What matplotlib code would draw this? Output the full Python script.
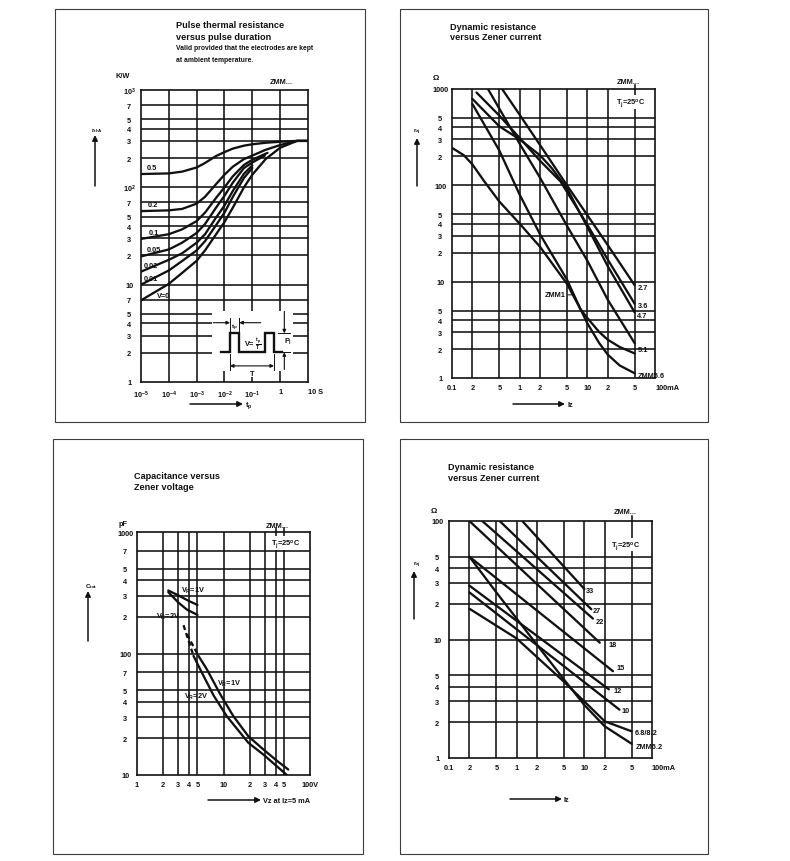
import matplotlib
matplotlib.use("Agg")
import matplotlib.pyplot as plt
from matplotlib.patches import Rectangle, FancyArrowPatch
from matplotlib.ticker import NullLocator

plt.rcParams["font.family"] = ["Liberation Sans", "DejaVu Sans"]
plt.rcParams["font.weight"] = "bold"
plt.rcParams["mathtext.default"] = "regular"

W, H = 790, 862
INK = "#111111"

# ---- pulse thermal resistance (top left) ----
tp_long = [1e-5, 1e-4, 3e-4, 1e-3, 2e-3, 5e-3, 1e-2, 2e-2, 5e-2, 1e-1, 3e-1, 1, 4, 10]
zth_05 = [137, 139, 145, 160, 178, 210, 230, 250, 268, 277, 287, 294, 300, 300]
zth_02 = [57, 58, 60, 68, 80, 108, 135, 163, 195, 212, 243, 272, 300, 300]
zth_0 = [6.9, 10.2, 13.2, 17.6, 22.5, 33, 44, 62, 100, 135, 195, 255, 300, 300]
tp_01 = [1e-5, 1e-4, 3e-4, 1e-3, 2e-3, 5e-3, 1e-2, 2e-2, 5e-2, 1e-1, 3.5e-1]
zth_01 = [29.5, 33, 37, 45, 55, 78, 100, 130, 170, 192, 226]
tp_005 = [1e-5, 1e-4, 3e-4, 1e-3, 2e-3, 5e-3, 1e-2, 2e-2, 5e-2, 1e-1, 2.8e-1]
zth_005 = [19.5, 23, 27, 34, 42, 62, 82, 112, 158, 180, 212]
tp_short = [1e-5, 1e-4, 3e-4, 1e-3, 2e-3, 5e-3, 1e-2, 2e-2, 5e-2, 1e-1]
zth_002 = [13.6, 18, 21, 27, 33, 49, 65, 92, 138, 168]
zth_001 = [10, 14, 17.5, 22.5, 28, 41, 55, 80, 125, 158]
duty_labels = ["0.5", "0.2", "0.1", "0.05", "0.02", "0.01", "V=0"]
duty_label_t = [2.4e-5, 2.6e-5, 2.8e-5, 2.8e-5, 2.25e-5, 2.25e-5, 6.3e-5]
duty_label_z = [158, 66, 34.5, 23, 15.8, 11.6, 7.7]

# ---- dynamic resistance, low voltages (top right) ----
iz_27 = [0.55, 1, 2, 5, 10, 20, 50]
rz_27 = [1000, 540, 262, 100, 49, 24, 9.2]
iz_36 = [0.23, 0.5, 1, 2, 4, 10, 20, 50]
rz_36 = [920, 530, 310, 180, 110, 39, 17, 5.9]
iz_47 = [0.2, 0.5, 1, 2, 3, 5, 10, 20, 50]
rz_47 = [790, 410, 300, 205, 150, 93, 37, 14.5, 4.8]
iz_51 = [0.34, 1, 2, 5, 10, 20, 50]
rz_51 = [1000, 270, 120, 38, 16.5, 6.5, 2.3]
iz_56 = [0.2, 0.5, 1, 2, 5, 7.9, 10, 15, 20, 30, 50]
rz_56 = [700, 230, 80, 31, 10.5, 5.2, 3.7, 2.3, 1.75, 1.35, 1.12]
iz_zmm1 = [0.1, 0.15, 0.2, 0.3, 0.5, 1, 2, 5, 7.9, 10, 15, 20, 30, 50]
rz_zmm1 = [245, 205, 165, 110, 68, 40, 23, 9.5, 5.2, 4.2, 3.0, 2.5, 2.1, 1.8]
low_names = ["2.7", "3.6", "4.7", "5.1", "ZMM5.6"]
low_label_r = [8.7, 5.7, 4.5, 1.96, 1.05]

# ---- capacitance (bottom left) ----
vz_1v_hi = [2.3, 3.0, 4.0, 5.0]
c_1v_hi = [330, 301, 270, 251]
vz_2v_hi = [2.3, 3.0, 3.8, 5.0]
c_2v_hi = [320, 263, 229, 208]
vz_1v_dash = [3.78, 5.14]
c_1v_dash = [144, 95.5]
vz_2v_dash = [3.45, 4.5]
c_2v_dash = [171, 95.5]
vz_1v = [5.14, 6.43, 9.2, 13, 19.4, 29, 42, 56]
c_1v = [95.5, 74, 46, 30.5, 20.8, 16.2, 13, 11.1]
vz_2v = [4.5, 5.6, 7.7, 10.9, 19.4, 29, 54]
c_2v = [95.5, 70, 45, 30.5, 18.4, 14.7, 10]

# ---- dynamic resistance, higher voltages (bottom right) ----
iz_33 = [1.21, 10]
rz_33 = [100, 26.7]
iz_27h = [0.56, 12.7]
rz_27h = [100, 18]
iz_22 = [0.31, 13.4]
rz_22 = [100, 15]
iz_18 = [0.2, 16.9]
rz_18 = [100, 9.4]
iz_15 = [0.2, 26.5]
rz_15 = [50, 5.4]
iz_12 = [0.2, 23]
rz_12 = [28.5, 3.8]
iz_10 = [0.2, 33]
rz_10 = [25, 2.56]
iz_68 = [0.2, 1, 5, 10, 20, 50]
rz_68 = [18.2, 10.2, 4.4, 3.0, 2.04, 1.68]
iz_62 = [0.2, 0.5, 1, 2, 5, 10, 20, 50]
rz_62 = [50, 25, 15, 9, 4.6, 2.8, 1.85, 1.32]
high_names = ["33", "27", "22", "18", "15", "12", "10", "6.8/8.2", "ZMM6.2"]
high_label_i = [10.7, 13.4, 14.7, 23, 29.6, 27.1, 35.2, 55.3, 58.5]
high_label_r = [26, 17.6, 14.2, 9.0, 5.8, 3.7, 2.5, 1.63, 1.26]

fig = plt.figure(figsize=(W / 100, H / 100), dpi=100)


def fx(x):
    return x / W


def fy(y):
    return 1 - y / H


def frame(x0, y0, x1, y1):
    fig.add_artist(Rectangle((fx(x0), fy(y1)), (x1 - x0) / W, (y1 - y0) / H,
                             transform=fig.transFigure, fill=False,
                             lw=0.8, ec="#3c3c3c"))


def ftext(x, y, s, size=5.3, **kw):
    kw.setdefault("va", "center")
    return fig.text(fx(x), fy(y), s, fontsize=size, color=INK, **kw)


def farrow(x0, y0, x1, y1):
    fig.add_artist(FancyArrowPatch((fx(x0), fy(y0)), (fx(x1), fy(y1)),
                                   transform=fig.transFigure, arrowstyle="-|>",
                                   mutation_scale=8, lw=1.1, color=INK,
                                   shrinkA=0, shrinkB=0))


def make_axes(box, xlim, ylim, xgrid, ygrid, xticks, xlabels, yticks, ylabels):
    x0, y0, x1, y1 = box
    ax = fig.add_axes([fx(x0), fy(y1), (x1 - x0) / W, (y1 - y0) / H])
    ax.set_xscale("log")
    ax.set_yscale("log")
    ax.set_xlim(*xlim)
    ax.set_ylim(*ylim)
    for v in xgrid:
        ax.axvline(v, color=INK, lw=1.15, zorder=1)
    for v in ygrid:
        ax.axhline(v, color=INK, lw=1.15, zorder=1)
    ax.set_xticks(xticks, xlabels)
    ax.set_yticks(yticks, ylabels)
    ax.xaxis.set_minor_locator(NullLocator())
    ax.yaxis.set_minor_locator(NullLocator())
    ax.tick_params(length=0, labelsize=5.3, colors=INK)
    ax.tick_params(axis="y", pad=8.5)
    ax.tick_params(axis="x", pad=4.5)
    for lbl in ax.get_yticklabels():
        lbl.set_horizontalalignment("center")
    for s in ax.spines.values():
        s.set_linewidth(1.2)
        s.set_color(INK)
    return ax


def curve(ax, x, y, **kw):
    ax.plot(x, y, color=INK, lw=1.65, solid_joinstyle="round",
            solid_capstyle="round", zorder=3, **kw)


tj_text = r"T$_j$=25$^o$C"
white_box = dict(fc="white", ec="none", pad=0.6)

# ======================= top left =======================
frame(55, 10, 365, 423)
ftext(176, 25, "Pulse thermal resistance", 6.6)
ftext(176, 37, "versus pulse duration", 6.6)
ftext(176, 48, "Valid provided that the electrodes are kept", 4.9)
ftext(176, 60, "at ambient temperature.", 4.9)
ftext(123, 76, "K/W", ha="center")
ftext(281, 83, "ZMM...", ha="center")
ftext(97, 131, r"r$_{thA}$", 4.6, ha="center")
farrow(95, 187, 95, 136)
farrow(190, 405, 243, 405)
ftext(245, 406, r"t$_p$", ha="left")

ax1 = make_axes((141, 91, 308, 383), (1e-5, 10), (1, 1000),
                [1e-4, 1e-3, 1e-2, 1e-1, 1],
                [2, 3, 4, 5, 7, 10, 20, 30, 40, 50, 70, 100, 200, 300, 400, 500, 700],
                [1e-5, 1e-4, 1e-3, 1e-2, 1e-1, 1, 10],
                ["$10^{-5}$", "$10^{-4}$", "$10^{-3}$", "$10^{-2}$", "$10^{-1}$", "1", "10 S"],
                [1, 2, 3, 4, 5, 7, 10, 20, 30, 40, 50, 70, 100, 200, 300, 400, 500, 700, 1000],
                ["1", "2", "3", "4", "5", "7", "10", "2", "3", "4", "5", "7", "$10^2$",
                 "2", "3", "4", "5", "7", "$10^3$"])
ax1.get_xticklabels()[-1].set_horizontalalignment("left")
curve(ax1, tp_long, zth_05)
curve(ax1, tp_long, zth_02)
curve(ax1, tp_01, zth_01)
curve(ax1, tp_005, zth_005)
curve(ax1, tp_short, zth_002)
curve(ax1, tp_short, zth_001)
curve(ax1, tp_long, zth_0)
for name, t, z in zip(duty_labels, duty_label_t, duty_label_z):
    ax1.text(t, z, name, fontsize=5.3, ha="center", va="center", color=INK, zorder=4)

# pulse sketch drawn on a white patch (local 0..100 units)
ins = fig.add_axes([fx(211.7), fy(371.7), 81.6 / W, 60 / H])
ins.set_xlim(0, 100)
ins.set_ylim(0, 100)
ins.set_xticks([])
ins.set_yticks([])
for s in ins.spines.values():
    s.set_visible(False)
ins.plot([11, 22.4, 22.4, 33.8, 33.8, 65.3, 65.3, 76.3, 76.3, 85.8],
         [30.7, 30.7, 62.3, 62.3, 30.7, 30.7, 62.3, 62.3, 30.7, 30.7],
         color=INK, lw=1.7, solid_joinstyle="miter")
for u in (22.4, 33.8):
    ins.plot([u, u], [62.3, 88], color=INK, lw=0.7)
for u in (22.4, 76.3):
    ins.plot([u, u], [28, 2], color=INK, lw=0.7)
for v in (62.3, 30.7):
    ins.plot([80.8, 96], [v, v], color=INK, lw=0.7)


def sk_arrow(p0, p1, style="-|>"):
    ins.add_patch(FancyArrowPatch(p0, p1, arrowstyle=style, mutation_scale=5,
                                  lw=0.8, color=INK, shrinkA=0, shrinkB=0))


sk_arrow((2, 80), (22.4, 80))
sk_arrow((60, 80), (33.8, 80))
sk_arrow((22.4, 8), (76.3, 8), "<|-|>")
sk_arrow((89, 99), (89, 62.3))
sk_arrow((89, 2), (89, 30.7))
ins.text(28, 73, r"t$_p$", fontsize=4.6, ha="center", va="center", color=INK)
ins.text(50, 45, r"V= $\frac{t_p}{T}$", fontsize=5.3, ha="center", va="center", color=INK)
ins.text(93.5, 50, r"P$_I$", fontsize=5.3, ha="center", va="center", color=INK)
ins.text(50, -4, "T", fontsize=5.3, ha="center", va="center", color=INK,
         bbox=white_box, clip_on=False)

# ======================= top right =======================
frame(400, 10, 708, 423)
ftext(450, 27, "Dynamic resistance", 6.6)
ftext(450, 38, "versus Zener current", 6.6)
ftext(436, 79, "Ω", 5.8, ha="center")
ftext(628, 82, "ZMM...", ha="center")
ftext(417, 132, r"r$_{zj}$", 4.6, ha="center")
farrow(417, 187, 417, 139)
farrow(513, 405, 565, 405)
ftext(567, 406, "Iz", ha="left")

ax2 = make_axes((452, 90, 655, 379), (0.1, 100), (1, 1000),
                [0.2, 0.5, 1, 2, 5, 10, 20, 50],
                [2, 3, 4, 5, 10, 20, 30, 40, 50, 100, 200, 300, 400, 500],
                [0.1, 0.2, 0.5, 1, 2, 5, 10, 20, 50, 100],
                ["0.1", "2", "5", "1", "2", "5", "10", "2", "5", "100mA"],
                [1, 2, 3, 4, 5, 10, 20, 30, 40, 50, 100, 200, 300, 400, 500, 1000],
                ["1", "2", "3", "4", "5", "10", "2", "3", "4", "5", "100",
                 "2", "3", "4", "5", "1000"])
ax2.get_xticklabels()[-1].set_horizontalalignment("left")
ax2.axvline(50, ymin=1, ymax=1.015, color=INK, lw=1.15, clip_on=False)
curve(ax2, iz_27, rz_27)
curve(ax2, iz_36, rz_36)
curve(ax2, iz_47, rz_47)
curve(ax2, iz_51, rz_51)
curve(ax2, iz_56, rz_56)
curve(ax2, iz_zmm1, rz_zmm1)
for name, r in zip(low_names, low_label_r):
    ax2.text(55, r, name, fontsize=5.3, ha="left", va="center", color=INK)
ax2.annotate("ZMM1", xy=(5.9, 7.3), xytext=(4.7, 7.3), fontsize=5.3, ha="right",
             va="center", color=INK,
             arrowprops=dict(arrowstyle="-", lw=0.7, color=INK, shrinkA=0, shrinkB=0))
ax2.text(0.88, 0.955, tj_text, transform=ax2.transAxes, fontsize=5.3, ha="center",
         va="center", color=INK, bbox=white_box, zorder=5)

# ======================= bottom left =======================
frame(53, 440, 363, 855)
ftext(134, 477, "Capacitance versus", 6.6)
ftext(134, 488, "Zener voltage", 6.6)
ftext(123, 525, "pF", ha="center")
ftext(277, 526, "ZMM...", ha="center")
ftext(91, 587, r"C$_{tot}$", 4.6, ha="center")
farrow(88, 642, 88, 592)
farrow(208, 801, 261, 801)
ftext(263, 802, "Vz at Iz=5 mA", ha="left")

ax3 = make_axes((137, 533, 310, 776), (1, 100), (10, 1000),
                [2, 3, 4, 5, 10, 20, 30, 40, 50],
                [20, 30, 40, 50, 70, 100, 200, 300, 400, 500, 700],
                [1, 2, 3, 4, 5, 10, 20, 30, 40, 50, 100],
                ["1", "2", "3", "4", "5", "10", "2", "3", "4", "5", "100V"],
                [10, 20, 30, 40, 50, 70, 100, 200, 300, 400, 500, 700, 1000],
                ["10", "2", "3", "4", "5", "7", "100", "2", "3", "4", "5", "7", "1000"])
for v in (40, 50):
    ax3.axvline(v, ymin=1, ymax=1.015, color=INK, lw=1.15, clip_on=False)
curve(ax3, vz_1v_hi, c_1v_hi)
curve(ax3, vz_2v_hi, c_2v_hi)
ax3.plot(vz_1v_dash, c_1v_dash, color=INK, lw=1.65, ls=(0, (2.2, 1.4)), zorder=3)
ax3.plot(vz_2v_dash, c_2v_dash, color=INK, lw=1.65, ls=(0, (2.2, 1.4)), zorder=3)
curve(ax3, vz_1v, c_1v)
curve(ax3, vz_2v, c_2v)
vr1 = r"V$_R$=1V"
vr2 = r"V$_R$=2V"
ax3.text(4.4, 334, vr1, fontsize=5.3, ha="center", va="center", color=INK)
ax3.text(2.27, 202, vr2, fontsize=5.3, ha="center", va="center", color=INK)
ax3.text(11.5, 57, vr1, fontsize=5.3, ha="center", va="center", color=INK)
ax3.text(4.8, 44.7, vr2, fontsize=5.3, ha="center", va="center", color=INK)
ax3.text(0.86, 0.955, tj_text, transform=ax3.transAxes, fontsize=5.3, ha="center",
         va="center", color=INK, bbox=white_box, zorder=5)

# ======================= bottom right =======================
frame(400, 440, 708, 855)
ftext(448, 468, "Dynamic resistance", 6.6)
ftext(448, 479, "versus Zener current", 6.6)
ftext(434, 512, "Ω", 5.8, ha="center")
ftext(625, 513, "ZMM...", ha="center")
ftext(417, 565, r"r$_{zj}$", 4.6, ha="center")
farrow(414, 620, 414, 572)
farrow(510, 800, 562, 800)
ftext(564, 801, "Iz", ha="left")

ax4 = make_axes((449, 522, 652, 759), (0.1, 100), (1, 100),
                [0.2, 0.5, 1, 2, 5, 10, 20, 50],
                [2, 3, 4, 5, 10, 20, 30, 40, 50],
                [0.1, 0.2, 0.5, 1, 2, 5, 10, 20, 50, 100],
                ["0.1", "2", "5", "1", "2", "5", "10", "2", "5", "100mA"],
                [1, 2, 3, 4, 5, 10, 20, 30, 40, 50, 100],
                ["1", "2", "3", "4", "5", "10", "2", "3", "4", "5", "100"])
ax4.get_xticklabels()[-1].set_horizontalalignment("left")
ax4.axvline(50, ymin=1, ymax=1.02, color=INK, lw=1.15, clip_on=False)
for x, y in [(iz_33, rz_33), (iz_27h, rz_27h), (iz_22, rz_22), (iz_18, rz_18),
             (iz_15, rz_15), (iz_12, rz_12), (iz_10, rz_10), (iz_68, rz_68),
             (iz_62, rz_62)]:
    curve(ax4, x, y)
for name, i, r in zip(high_names, high_label_i, high_label_r):
    ax4.text(i, r, name, fontsize=5.3, ha="left", va="center", color=INK)
ax4.text(0.87, 0.9, tj_text, transform=ax4.transAxes, fontsize=5.3, ha="center",
         va="center", color=INK, bbox=white_box, zorder=5)

fig.savefig("out.png", dpi=100, facecolor="white")
